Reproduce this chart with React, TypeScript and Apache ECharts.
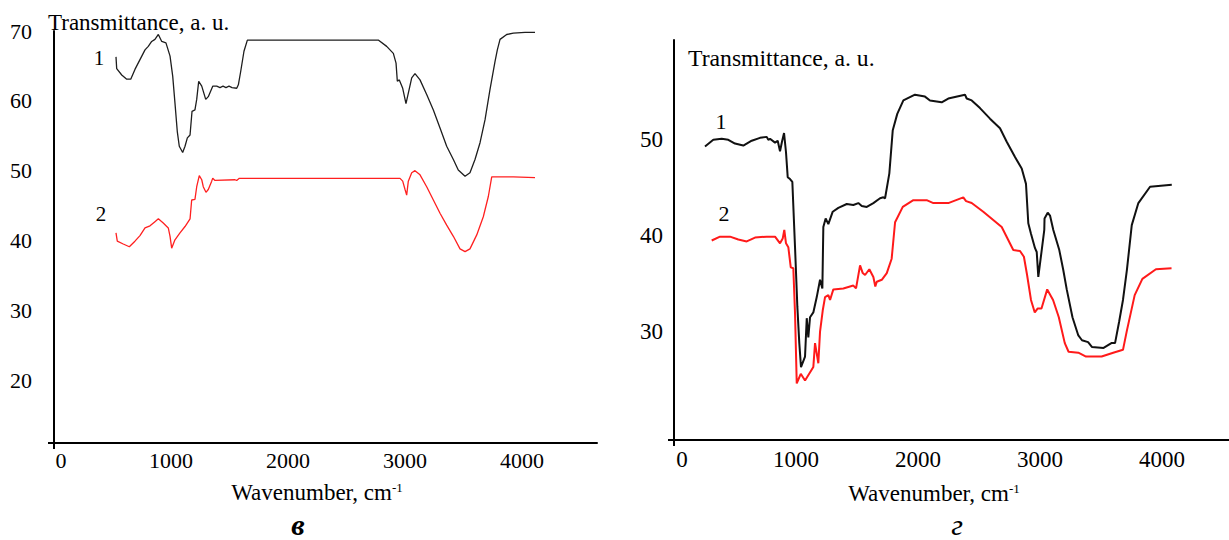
import React, { useEffect, useRef } from "react";
import * as echarts from "echarts";

// Panel "в" (left)
const leftWn1 = [530,536,579,622,656,692,735,778,806,835,863,892,921,957,992,1015,1034,1054,1071,1100,1120,1140,1163,1180,1205,1220,1237,1263,1297,1319,1357,1391,1419,1445,1470,1496,1522,1562,1576,1596,1624,1653,2772,2844,2901,2924,2935,2952,2981,3009,3029,3058,3086,3129,3186,3243,3300,3357,3414,3456,3514,3556,3599,3642,3685,3727,3770,3790,3813,3870,3927,4027,4112];
const leftT1 = [66.3,64.6,63.7,63.1,63.1,64.5,65.9,67.3,67.8,68.5,68.8,69.5,68.5,68.3,66.4,63.5,59.7,55.6,53.5,52.6,53.5,54.7,55.1,58.5,58.7,60.2,62.8,62.1,60.2,60.6,62.1,62.1,61.9,62.1,61.9,62.1,61.9,61.8,62.3,64.2,67.1,68.7,68.7,67.8,66.8,65.4,62.8,63.0,61.8,59.6,61.1,63.3,63.9,63.0,60.9,58.7,56.1,53.5,51.6,50.1,49.2,49.7,51.6,54.0,57.3,61.6,65.6,67.3,68.8,69.5,69.7,69.8,69.8];
const leftWn2 = [530,541,592,644,692,735,778,821,863,892,934,977,992,1006,1034,1077,1120,1163,1177,1205,1220,1242,1263,1276,1299,1319,1348,1357,1376,1547,1562,1584,2958,2981,3001,3015,3029,3058,3086,3129,3186,3243,3300,3357,3414,3471,3514,3556,3614,3670,3713,3742,3927,4112];
const leftT2 = [41.1,39.9,39.5,39.1,39.9,40.7,41.8,42.1,42.7,43.1,42.5,41.8,40.6,38.9,40.1,41.1,42.0,43.1,45.8,45.9,47.7,49.3,48.7,47.7,46.9,47.3,48.5,48.9,48.6,48.7,48.6,48.9,48.9,48.5,47.3,46.5,48.5,49.7,50.0,49.4,47.7,45.8,43.9,42.2,40.6,38.8,38.4,38.8,40.8,43.4,46.3,49.1,49.1,49.0];

// Panel "г" (right)
const rightWn1 = [254,322,391,445,500,568,637,705,760,773,787,828,850,869,885,902,918,932,951,970,992,1011,1027,1041,1074,1088,1101,1115,1142,1170,1197,1216,1224,1243,1265,1301,1347,1416,1470,1511,1539,1580,1634,1689,1716,1730,1765,1793,1830,1880,1975,2057,2098,2194,2248,2385,2399,2440,2508,2590,2672,2727,2795,2850,2885,2904,2926,2959,2973,2986,3014,3035,3037,3063,3082,3109,3158,3191,3219,3266,3314,3344,3394,3425,3521,3585,3615,3648,3680,3712,3752,3806,3902,4080];
const rightT1 = [49.3,50.0,50.1,50.0,49.6,49.4,49.9,50.2,50.3,50.0,50.1,49.7,49.9,48.8,49.8,50.7,48.7,46.1,45.9,45.6,38.8,32.6,28.8,26.3,27.4,31.4,29.4,31.5,32.0,33.6,35.4,34.5,40.9,41.8,41.2,42.5,42.9,43.3,43.2,43.4,43.1,43.0,43.4,43.9,44.0,43.9,46.5,51.0,52.7,54.1,54.7,54.5,54.1,53.9,54.3,54.7,54.3,54.1,53.3,52.2,51.2,49.8,48.2,47.0,45.4,41.3,40.2,38.7,38.3,35.7,38.5,40.6,41.8,42.4,42.1,40.6,38.5,36.4,34.4,31.5,29.6,29.1,28.9,28.4,28.3,28.8,28.8,31.0,33.3,36.4,41.1,43.4,45.1,45.3];
const rightWn2 = [309,377,459,527,596,664,760,828,869,891,904,918,937,957,978,992,1006,1039,1074,1142,1156,1170,1183,1197,1219,1238,1265,1279,1306,1388,1470,1492,1525,1547,1566,1601,1634,1650,1662,1703,1744,1784,1812,1875,1962,2071,2126,2248,2371,2394,2440,2535,2686,2781,2836,2868,2894,2926,2957,2980,3012,3059,3107,3154,3203,3234,3314,3377,3505,3600,3680,3712,3776,3839,3950,4078];
const rightT2 = [39.5,39.9,39.9,39.6,39.4,39.8,39.9,39.9,39.2,39.7,40.6,39.2,38.8,36.7,36.6,31.9,24.6,25.6,24.9,26.3,28.8,27.7,26.7,30.0,32.2,33.6,33.8,33.3,34.4,34.5,34.8,34.5,36.9,36.1,35.9,36.5,35.7,34.7,35.2,35.4,36.1,37.6,41.4,43.0,43.7,43.7,43.4,43.4,44.0,43.6,43.4,42.5,40.9,38.5,38.4,37.8,35.9,33.3,32.0,32.4,32.4,34.4,33.3,31.5,28.8,27.9,27.8,27.4,27.4,27.8,28.1,30.1,33.8,35.5,36.5,36.6];

const xTicks = [0, 1000, 2000, 3000, 4000];
const leftYTicks = [20, 30, 40, 50, 60, 70];
const rightYTicks = [30, 40, 50];

const yTitle = "Transmittance, a. u.";
const xTitle = "Wavenumber, cm{s|-1}";
const leftPanel = "в";
const rightPanel = "г";

const pair = (xs: number[], ys: number[]) => xs.map((x, i) => [x, ys[i]]);

export default function App() {
  const ref = useRef<HTMLDivElement>(null);
  useEffect(() => {
    const chart = echarts.init(ref.current!, null, { renderer: "svg" });
    const serif = '"Liberation Serif", "Times New Roman", serif';
    const axLine = { color: "#000", width: 2 };
    const mkX = (grid: number, max: number, fs: number, margin: number, zeroPad: number) => ({
      gridIndex: grid,
      type: "value",
      min: 0,
      max,
      splitLine: { show: false },
      axisLine: { show: true, onZero: false, lineStyle: axLine },
      axisTick: { show: true, customValues: [0], length: 6, lineStyle: axLine },
      axisLabel: {
        customValues: xTicks,
        margin,
        fontSize: fs,
        fontFamily: serif,
        color: "#000",
        formatter: (v: number) => (v === 0 ? "{z|0}" : String(v)),
        rich: { z: { padding: [0, 0, 0, zeroPad], fontSize: fs, fontFamily: serif, color: "#000" } },
      },
    });
    const mkY = (grid: number, min: number, max: number, ticks: number[], fs: number, margin: number) => ({
      gridIndex: grid,
      type: "value",
      min,
      max,
      splitLine: { show: false },
      axisLine: { show: true, onZero: false, lineStyle: axLine },
      axisTick: { show: true, customValues: [min], length: 6, lineStyle: axLine },
      axisLabel: { customValues: ticks, margin, fontSize: fs, fontFamily: serif, color: "#000" },
    });
    const line = (name: string, xi: number, data: number[][], color: string, width: number) => ({
      name,
      type: "line",
      xAxisIndex: xi,
      yAxisIndex: xi,
      data,
      showSymbol: false,
      symbol: "none",
      lineStyle: { color, width },
      itemStyle: { color },
    });
    const txt = (text: string, x: number, y: number, fs: number, align = "center", extra: any = {}) => ({
      type: "text",
      x,
      y,
      silent: true,
      style: {
        text,
        fontSize: fs,
        fontFamily: serif,
        fill: "#000",
        align,
        verticalAlign: "middle",
        ...extra,
      },
    });
    const supRich = { s: { fontSize: 13, fontFamily: serif, fill: "#000", verticalAlign: "top", padding: [0, 0, 10, 0] } };
    chart.setOption({
      animation: false,
      backgroundColor: "#fff",
      grid: [
        { left: 54, top: 31, width: 543, height: 412 },
        { left: 674, top: 40, width: 555, height: 400 },
      ],
      xAxis: [mkX(0, 4642, 22, 6, 14), mkX(1, 4549, 23, 8, 16)],
      yAxis: [mkY(0, 11, 70, leftYTicks, 22, 22), mkY(1, 18.7, 60.4, rightYTicks, 23, 11)],
      series: [
        line("в-1", 0, pair(leftWn1, leftT1), "#1e1e1e", 1.3),
        line("в-2", 0, pair(leftWn2, leftT2), "#ff2020", 1.3),
        line("г-1", 1, pair(rightWn1, rightT1), "#111", 2),
        line("г-2", 1, pair(rightWn2, rightT2), "#ff1a1a", 2),
      ],
      graphic: [
        txt(yTitle, 48, 22, 23, "left"),
        txt(yTitle, 688, 58, 23.7, "left"),
        txt(xTitle, 317, 492, 23, "center", { rich: supRich }),
        txt(xTitle, 934, 493, 23, "center", { rich: supRich }),
        txt("1", 99, 58, 21),
        txt("2", 101, 214, 21),
        txt("1", 721, 121, 22),
        txt("2", 724, 213, 22),
        txt(leftPanel, 298, 539, 30, "center", { fontStyle: "italic", fontWeight: "bold", verticalAlign: "bottom" }),
        txt(rightPanel, 957, 539, 30, "center", { fontStyle: "italic", verticalAlign: "bottom" }),
      ],
    });
    return () => chart.dispose();
  }, []);
  return <div ref={ref} style={{ position: "absolute", left: 0, top: 0, width: 1229, height: 540 }} />;
}
